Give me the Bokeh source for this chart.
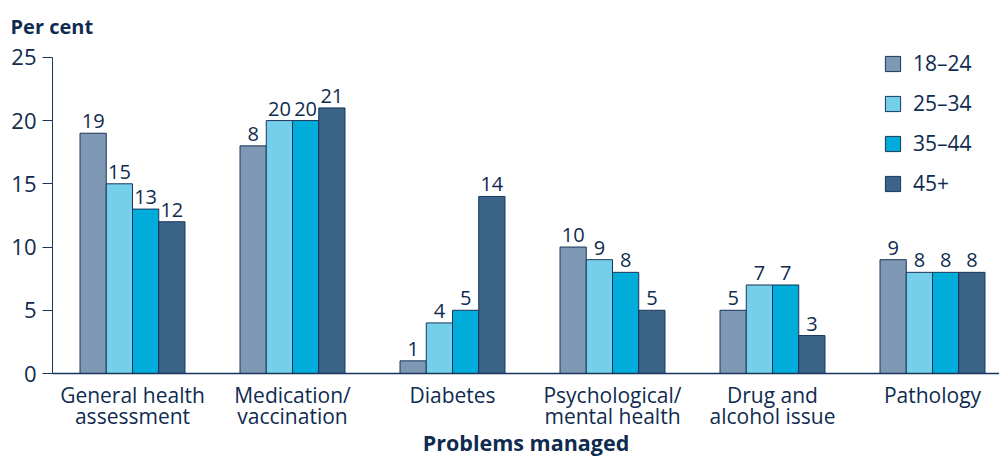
import numpy as np
from bokeh.plotting import figure
from bokeh.models import ColumnDataSource, Legend, LegendItem, FixedTicker, Range1d
from bokeh.core.properties import value
from bokeh.embed import file_html
from bokeh.resources import INLINE

categories = ["General health\nassessment", "Medication/\nvaccination", "Diabetes",
              "Psychological/\nmental health", "Drug and\nalcohol issue", "Pathology"]
series = ["18–24", "25–34", "35–44", "45+"]
v_18_24 = [19, 18, 1, 10, 5, 9]
v_25_34 = [15, 20, 4, 9, 7, 8]
v_35_44 = [13, 20, 5, 8, 7, 8]
v_45p = [12, 21, 14, 5, 3, 8]
lab_18_24 = ["19", "8", "1", "10", "5", "9"]
lab_25_34 = ["15", "20", "4", "9", "7", "8"]
lab_35_44 = ["13", "20", "5", "8", "7", "8"]
lab_45p = ["12", "21", "14", "5", "3", "8"]
y_ticks = [0, 5, 10, 15, 20, 25]

colors = ["#7f98b5", "#76cfea", "#00acd9", "#3b6588"]
outline = "#17365a"
txt = "#0f2b4f"
FONT = "Open Sans"

W, H = 999, 460
p = figure(width=W, height=H, output_backend="svg", toolbar_location=None,
           x_range=Range1d(-0.5, -0.5 + (W - 52) / 160.0), y_range=Range1d(0, 25.7),
           min_border_left=52, min_border_right=0, min_border_top=48, min_border_bottom=0)
p.outline_line_color = None
p.grid.grid_line_color = None
p.background_fill_color = "white"

p.title.text = "Per cent"
p.title.text_font = FONT
p.title.text_font_size = "20px"
p.title.text_font_style = "bold"
p.title.text_color = txt
p.title.align = "left"
p.title.vertical_align = "top"
p.title.offset = -42
p.title.standoff = 14

w = 0.164
offs = [-1.5 * w, -0.5 * w, 0.5 * w, 1.5 * w]
vals = [v_18_24, v_25_34, v_35_44, v_45p]
labs = [lab_18_24, lab_25_34, lab_35_44, lab_45p]
xc = np.arange(len(categories))
items = []
for i in range(4):
    src = ColumnDataSource(dict(x=xc + offs[i], top=vals[i], lab=labs[i]))
    r = p.vbar(x="x", top="top", width=w, source=src, fill_color=colors[i],
               line_color=outline, line_width=1)
    items.append(LegendItem(label=series[i], renderers=[r]))
    p.text(x="x", y="top", text="lab", source=src, text_align="center",
           text_baseline="bottom", y_offset=-5, text_font_size="20px",
           text_color=txt, text_font=value(FONT))

legend = Legend(items=items, location=(831, 176), padding=0, margin=0,
                background_fill_alpha=0, border_line_alpha=0,
                glyph_width=19, glyph_height=19, label_height=19, spacing=12,
                label_standoff=11, label_text_font_size="21px",
                label_text_color=txt, label_text_font=FONT)
p.add_layout(legend)

# x axis
p.xaxis.ticker = FixedTicker(ticks=list(xc))
p.xaxis.major_label_overrides = {int(i): c for i, c in enumerate(categories)}
p.xaxis.major_tick_line_color = None
p.xaxis.minor_tick_line_color = None
p.xaxis.axis_line_color = outline
p.xaxis.axis_line_width = 1.5
p.xaxis.major_label_text_font_size = "21px"
p.xaxis.major_label_text_font = FONT
p.xaxis.major_label_text_color = txt
p.xaxis.major_label_text_line_height = 0.78
p.xaxis.major_label_standoff = 1
p.xaxis.axis_label = "Problems managed"
p.xaxis.axis_label_text_font_style = "bold"
p.xaxis.axis_label_text_font_size = "21.5px"
p.xaxis.axis_label_text_font = FONT
p.xaxis.axis_label_text_color = txt
p.xaxis.axis_label_text_line_height = 0.8
p.xaxis.axis_label_standoff = -5

# y axis
p.yaxis.ticker = FixedTicker(ticks=y_ticks)
p.yaxis.bounds = (0, 25)
p.yaxis.major_tick_out = 10
p.yaxis.major_tick_in = 0
p.yaxis.minor_tick_line_color = None
p.yaxis.axis_line_color = outline
p.yaxis.major_tick_line_color = outline
p.yaxis.major_label_text_font_size = "22px"
p.yaxis.major_label_text_font = FONT
p.yaxis.major_label_text_color = txt
p.yaxis.major_label_standoff = 6

open("out.html", "w").write(file_html(p, INLINE))
